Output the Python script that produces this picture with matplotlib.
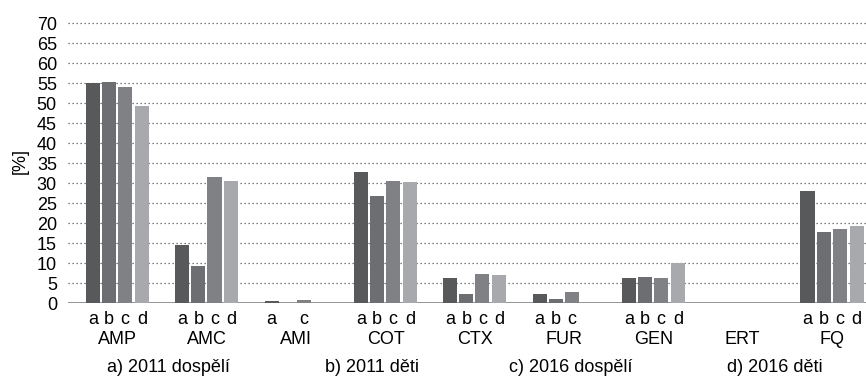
import numpy as np
import matplotlib
matplotlib.use("Agg")
import matplotlib.pyplot as plt
from matplotlib.transforms import blended_transform_factory

plt.rcParams['font.family'] = ['Liberation Sans', 'DejaVu Sans']

# Antibiotic categories and the four sub-series (a-d)
categories = ["AMP", "AMC", "AMI", "COT", "CTX", "FUR", "GEN", "ERT", "FQ"]
series_labels = ["a", "b", "c", "d"]
nan = np.nan
values_a = [54.9, 14.5, 0.5, 32.7, 6.2, 2.2, 6.2, nan, 28.1]
values_b = [55.2, 9.2, nan, 26.8, 2.2, 0.9, 6.4, nan, 17.8]
values_c = [53.9, 31.6, 0.75, 30.6, 7.2, 2.7, 6.2, nan, 18.5]
values_d = [49.2, 30.6, nan, 30.2, 7.0, nan, 10.0, nan, 19.3]
group_labels = ["a) 2011 dospělí", "b) 2011 děti", "c) 2016 dospělí", "d) 2016 děti"]
group_label_x = [0.565, 2.85, 5.07, 7.36]
yticks = list(range(0, 75, 5))

series = [values_a, values_b, values_c, values_d]
colors = ["#58595b", "#6d6e71", "#808184", "#a7a9ac"]
offsets = [-0.275, -0.095, 0.085, 0.275]
bar_w = 0.158

fig = plt.figure(figsize=(8.66, 3.76), dpi=100)
ax = fig.add_axes([68 / 866, 73 / 376, 798 / 866, 280 / 376])

x = np.arange(len(categories))
tick_pos, tick_lab = [], []
for vals, col, off, lab in zip(series, colors, offsets, series_labels):
    v = np.array(vals, dtype=float)
    ax.bar(x + off, v, width=bar_w, color=col, zorder=3, linewidth=0)
    for xi, vi in zip(x, v):
        if not np.isnan(vi):
            tick_pos.append(xi + off)
            tick_lab.append(lab)

ax.set_xlim(-0.555, 8.38)
ax.set_ylim(0, 70)
ax.set_yticks(yticks)
ax.tick_params(axis='y', length=0, pad=8, labelsize=13)
ax.set_xticks(tick_pos)
ax.set_xticklabels(tick_lab)
ax.tick_params(axis='x', length=0, pad=6, labelsize=13)

for s in ax.spines.values():
    s.set_visible(False)

for yv in yticks[1:]:
    ax.axhline(yv, color="#555555", lw=0.9, linestyle=(0, (1, 2.2)), zorder=1, clip_on=False)
ax.axhline(0, color="#8a8a8a", lw=2, zorder=2)

tr = blended_transform_factory(ax.transData, ax.transAxes)
for xi, name in zip(x, categories):
    ax.text(xi, -0.132, name, transform=tr, ha='center', va='center', fontsize=13)
for gx, gl in zip(group_label_x, group_labels):
    ax.text(gx, -0.232, gl, transform=tr, ha='center', va='center', fontsize=13)

fig.text(20 / 866, 1 - 161 / 376, "[%]", rotation=90, ha='center', va='center', fontsize=13)

fig.savefig("out.png", dpi=100)
